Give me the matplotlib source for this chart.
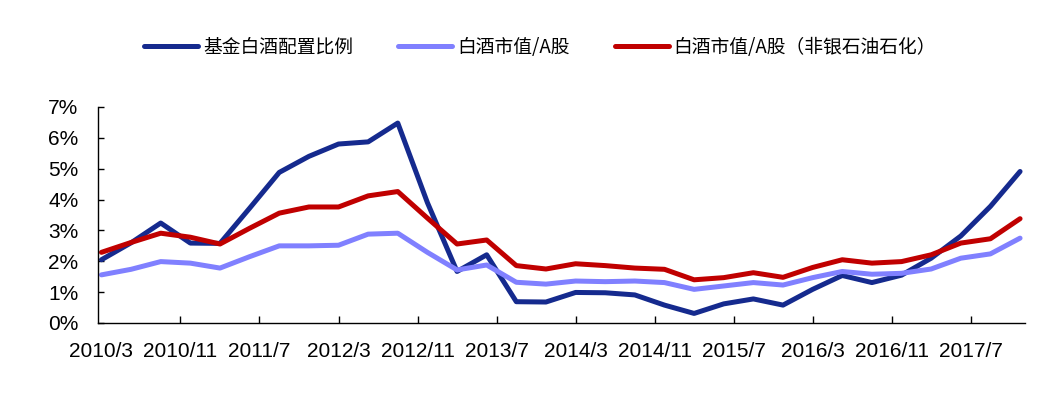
import matplotlib
matplotlib.use("Agg")
import matplotlib.pyplot as plt

plt.rcParams['font.family'] = ['Liberation Sans', 'Noto Sans CJK SC', 'DejaVu Sans']

# Quarterly data, 2010/3 .. 2017/12
start_year, start_month = 2010, 3
fund_share = [2.05, 2.60, 3.24, 2.59, 2.58, 3.72, 4.88, 5.40, 5.80, 5.87,
              6.48, 3.90, 1.67, 2.21, 0.69, 0.68, 0.99, 0.98, 0.91, 0.58,
              0.31, 0.62, 0.78, 0.58, 1.09, 1.54, 1.31, 1.55, 2.10, 2.82,
              3.78, 4.91]
mv_a = [1.56, 1.74, 1.99, 1.94, 1.78, 2.15, 2.50, 2.50, 2.52, 2.88,
        2.91, 2.29, 1.72, 1.88, 1.32, 1.26, 1.36, 1.34, 1.36, 1.31,
        1.09, 1.20, 1.31, 1.23, 1.47, 1.67, 1.58, 1.61, 1.75, 2.10,
        2.24, 2.75]
mv_a_ex = [2.29, 2.61, 2.91, 2.78, 2.56, 3.07, 3.56, 3.76, 3.76, 4.12,
           4.26, 3.40, 2.56, 2.69, 1.86, 1.75, 1.92, 1.86, 1.78, 1.74,
           1.40, 1.47, 1.63, 1.48, 1.80, 2.05, 1.94, 1.99, 2.21, 2.59,
           2.73, 3.38]
series_names = ['基金白酒配置比例', '白酒市值/A股', '白酒市值/A股（非银石油石化）']
y_ticks = [0, 1, 2, 3, 4, 5, 6, 7]

months = [3 * i for i in range(len(fund_share))]  # months since 2010/3
tick_months = list(range(0, 89, 8))


def month_label(m):
    tot = start_month - 1 + m
    return f"{start_year + tot // 12}/{tot % 12 + 1}"


tick_labels = [month_label(m) for m in tick_months]

fig = plt.figure(figsize=(10.54, 4.17), dpi=100)
ax = fig.add_axes([98 / 1054, 1 - 323 / 417, (1025 - 98) / 1054, (323 - 107) / 417])

colors = ['#152A8E', '#8080FF', '#C00000']
for vals, name, c in zip([fund_share, mv_a, mv_a_ex], series_names, colors):
    ax.plot(months, vals, color=c, lw=3.6, label=name, solid_capstyle='round',
            solid_joinstyle='round')

ax.set_xlim(-0.35, 93.5)
ax.set_ylim(0, 7)
ax.set_yticks(y_ticks)
ax.set_yticklabels([f"{v}%" for v in y_ticks])
ax.set_xticks(tick_months)
ax.set_xticklabels(tick_labels)
ax.xaxis.get_major_ticks()[0].tick1line.set_visible(False)

for s in ['top', 'right']:
    ax.spines[s].set_visible(False)
for s in ['left', 'bottom']:
    ax.spines[s].set_linewidth(1.0)
    ax.spines[s].set_color('black')

ax.tick_params(axis='y', direction='in', length=4, width=1, labelsize=15, pad=14)
ax.tick_params(axis='x', direction='in', length=5, width=1, labelsize=15, pad=14)

leg = fig.legend(loc='center', bbox_to_anchor=(540 / 1054, 1 - 47 / 417), ncol=3,
                 frameon=False, prop={'family': ['Noto Sans CJK SC', 'DejaVu Sans'], 'size': 13.5},
                 handlelength=2.9, handletextpad=0.25, columnspacing=2.4)

fig.savefig('out.png', dpi=100)
